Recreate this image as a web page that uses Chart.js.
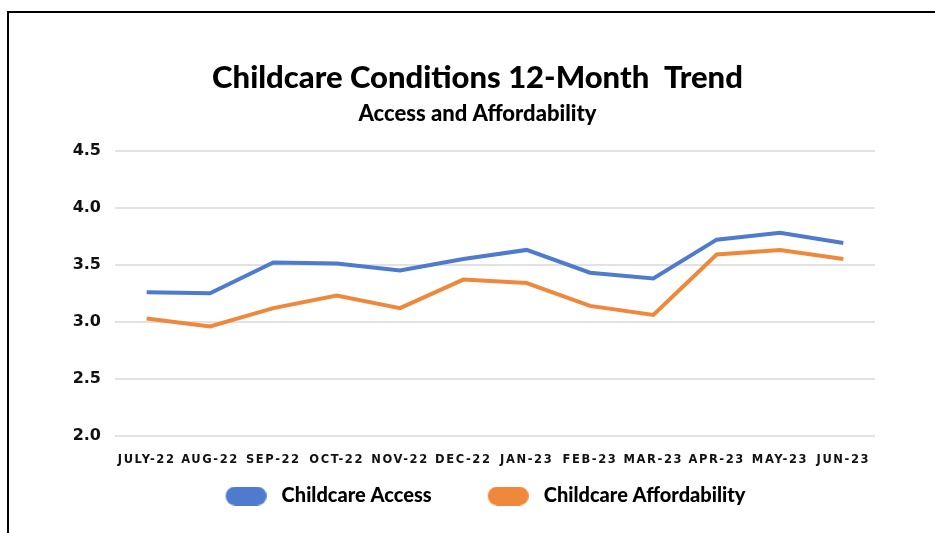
<!DOCTYPE html>
<html>
<head>
<meta charset="utf-8">
<script src="https://cdn.jsdelivr.net/npm/chart.js@4.4.0/dist/chart.umd.min.js"></script>
<style>
  html, body { margin: 0; padding: 0; background: #ffffff; }
  #wrap { position: relative; width: 935px; height: 533px; overflow: hidden; }
  #frame { position: absolute; left: 7px; top: 11px; width: 1000px; height: 600px;
           border-left: 2px solid #000; border-top: 2px solid #000; box-sizing: border-box; pointer-events: none; }
  canvas { position: absolute; left: 0; top: 0; }
</style>
</head>
<body>
<div id="wrap">
  <canvas id="c" width="935" height="533"></canvas>
  <div id="frame"></div>
</div>
<script>
const months = ["JULY-22","AUG-22","SEP-22","OCT-22","NOV-22","DEC-22","JAN-23","FEB-23","MAR-23","APR-23","MAY-23","JUN-23"];
const accessValues = [3.26, 3.25, 3.52, 3.51, 3.45, 3.55, 3.63, 3.43, 3.38, 3.72, 3.78, 3.69];
const affordabilityValues = [3.03, 2.96, 3.12, 3.23, 3.12, 3.37, 3.34, 3.14, 3.06, 3.59, 3.63, 3.55];
const seriesNames = ["Childcare Access", "Childcare Affordability"];
const titleText = "Childcare Conditions 12-Month  Trend";
const subtitleText = "Access and Affordability";
const yMin = 2.0, yMax = 4.5, yStep = 0.5;

const BLUE = "#4e7bcd";
const ORANGE = "#f0883c";
const FONT = "Lato, 'Noto Sans', sans-serif";
const TICKFONT = "'DejaVu Sans', Inter, sans-serif";

// rounded "pill" legend swatch (drawn right of centre inside a wider image)
function pill(color) {
  const c = document.createElement("canvas");
  c.width = 52; c.height = 19;
  const g = c.getContext("2d");
  g.fillStyle = color;
  g.beginPath();
  g.roundRect(11, 0, 41, 19, 9.5);
  g.fill();
  return c;
}

// letter-spaced x tick labels; tick labels allowed outside their (compact) axis boxes
const axisPlugin = {
  id: "axisTweaks",
  beforeDraw(chart) {
    const x = chart.scales.x, y = chart.scales.y;
    if (x && !x._patched) {
      const orig = x.drawLabels.bind(x);
      x.drawLabels = function (area) {
        const ctx = this.ctx;
        const prev = ctx.letterSpacing;
        ctx.letterSpacing = "1.6px";
        orig(area);
        ctx.letterSpacing = prev;
      };
      x._computeLabelArea = () => undefined;
      x._patched = true;
    }
    if (y && !y._patched) {
      y._computeLabelArea = () => undefined;
      y._patched = true;
    }
  }
};

new Chart(document.getElementById("c"), {
  type: "line",
  data: {
    labels: months,
    datasets: [
      { label: seriesNames[0], data: accessValues, borderColor: BLUE, backgroundColor: BLUE,
        borderWidth: 4, pointRadius: 0, pointStyle: pill(BLUE), tension: 0 },
      { label: seriesNames[1], data: affordabilityValues, borderColor: ORANGE, backgroundColor: ORANGE,
        borderWidth: 4, pointRadius: 0, pointStyle: pill(ORANGE), tension: 0 }
    ]
  },
  plugins: [axisPlugin],
  options: {
    responsive: false,
    animation: false,
    devicePixelRatio: 1,
    layout: { padding: { left: 80, right: 60, top: 0, bottom: 17 } },
    plugins: {
      title: { display: true, text: titleText, color: "#000",
        font: { family: FONT, size: 31, weight: "900" }, padding: { top: 59, bottom: 2 } },
      subtitle: { display: true, text: subtitleText, color: "#000",
        font: { family: FONT, size: 22, weight: "900" }, padding: { top: 3, bottom: 23 } },
      legend: { position: "bottom",
        labels: { color: "#000", font: { family: FONT, size: 20, weight: "900" },
          usePointStyle: true, pointStyleWidth: 62, boxHeight: 21, padding: 40 } },
      tooltip: { enabled: false }
    },
    scales: {
      x: { offset: true,
        grid: { display: false, drawTicks: false },
        border: { display: false },
        ticks: { color: "#111", font: { family: TICKFONT, size: 11.5, weight: "bold" }, padding: 17,
          maxRotation: 0, autoSkip: false },
        afterFit(s) { s.height = 10; } },
      y: { min: yMin, max: yMax,
        grid: { color: "#e2e2e2", lineWidth: 2, drawTicks: false },
        border: { display: false },
        ticks: { stepSize: yStep, color: "#111", padding: 14,
          font: { family: TICKFONT, size: 16, weight: "bold" },
          callback: v => Number(v).toFixed(1) },
        afterFit(s) { s.width = 35; } }
    }
  }
});
</script>
</body>
</html>
